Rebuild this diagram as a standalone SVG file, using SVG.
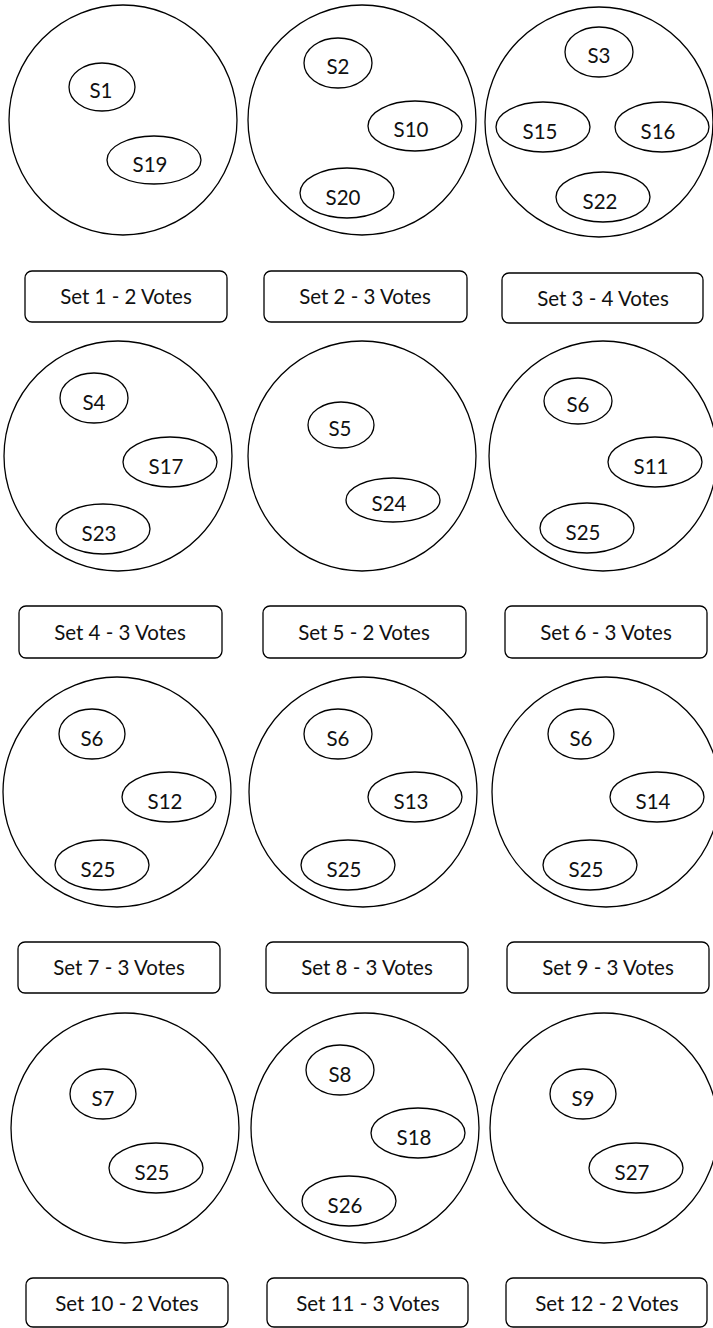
<svg xmlns="http://www.w3.org/2000/svg" width="713" height="1328" viewBox="0 0 713 1328">
<style>
.big{fill:#fff;stroke:#000;stroke-width:1.3}
.s{fill:#fff;stroke:#000;stroke-width:1.3}
.box{fill:#fff;stroke:#000;stroke-width:1.3}
text{font-family:Lato,"Liberation Sans",sans-serif;font-size:20.5px;fill:#111;text-anchor:middle}
</style>
<rect width="713" height="1328" fill="#fff"/>
<g id="connectors"></g>
<g id="set1">
<ellipse class="big" cx="123" cy="120" rx="114" ry="115"/>
<ellipse class="s" cx="102" cy="87" rx="33" ry="24"/><text x="101" y="98">S1</text>
<ellipse class="s" cx="154" cy="160" rx="47" ry="24"/><text x="150" y="172">S19</text>
<rect class="box" x="25" y="271" width="202" height="51" rx="7"/><text x="126" y="304">Set 1 - 2 Votes</text>
</g>
<g id="set2">
<ellipse class="big" cx="362" cy="120" rx="114" ry="115"/>
<ellipse class="s" cx="338" cy="63" rx="34" ry="25"/><text x="338" y="74">S2</text>
<ellipse class="s" cx="415" cy="126" rx="47" ry="25"/><text x="411" y="137">S10</text>
<ellipse class="s" cx="347" cy="193" rx="47" ry="25"/><text x="343" y="205">S20</text>
<rect class="box" x="264" y="271" width="203" height="51" rx="7"/><text x="365" y="304">Set 2 - 3 Votes</text>
</g>
<g id="set3">
<ellipse class="big" cx="599" cy="122" rx="114" ry="115"/>
<ellipse class="s" cx="599" cy="52" rx="34" ry="25"/><text x="599" y="63">S3</text>
<ellipse class="s" cx="543" cy="127" rx="47" ry="25"/><text x="540" y="139">S15</text>
<ellipse class="s" cx="662" cy="127" rx="47" ry="25"/><text x="658" y="139">S16</text>
<ellipse class="s" cx="603" cy="197" rx="47" ry="25"/><text x="600" y="209">S22</text>
<rect class="box" x="502" y="273" width="201" height="50" rx="7"/><text x="603" y="306">Set 3 - 4 Votes</text>
</g>
<g id="set4">
<ellipse class="big" cx="118" cy="456" rx="114" ry="115"/>
<ellipse class="s" cx="94" cy="398" rx="34" ry="25"/><text x="94" y="410">S4</text>
<ellipse class="s" cx="170" cy="462" rx="47" ry="25"/><text x="166" y="474">S17</text>
<ellipse class="s" cx="103" cy="529" rx="47" ry="25"/><text x="99" y="541">S23</text>
<rect class="box" x="19" y="606" width="203" height="52" rx="7"/><text x="120" y="640">Set 4 - 3 Votes</text>
</g>
<g id="set5">
<ellipse class="big" cx="362" cy="456" rx="114" ry="115"/>
<ellipse class="s" cx="341" cy="425" rx="33" ry="23"/><text x="340" y="436">S5</text>
<ellipse class="s" cx="393" cy="500" rx="47" ry="22"/><text x="389" y="511">S24</text>
<rect class="box" x="263" y="606" width="203" height="52" rx="7"/><text x="364" y="640">Set 5 - 2 Votes</text>
</g>
<g id="set6">
<ellipse class="big" cx="603" cy="456" rx="114" ry="115"/>
<ellipse class="s" cx="578" cy="401" rx="34" ry="23"/><text x="578" y="412">S6</text>
<ellipse class="s" cx="655" cy="462" rx="47" ry="25"/><text x="651" y="474">S11</text>
<ellipse class="s" cx="587" cy="528" rx="47" ry="25"/><text x="583" y="540">S25</text>
<rect class="box" x="505" y="606" width="202" height="52" rx="7"/><text x="606" y="640">Set 6 - 3 Votes</text>
</g>
<g id="set7">
<ellipse class="big" cx="117" cy="792" rx="114" ry="115"/>
<ellipse class="s" cx="92" cy="734" rx="33" ry="25"/><text x="92" y="746">S6</text>
<ellipse class="s" cx="169" cy="797" rx="47" ry="25"/><text x="165" y="809">S12</text>
<ellipse class="s" cx="102" cy="865" rx="47" ry="25"/><text x="98" y="877">S25</text>
<rect class="box" x="18" y="942" width="202" height="51" rx="7"/><text x="119" y="975">Set 7 - 3 Votes</text>
</g>
<g id="set8">
<ellipse class="big" cx="363" cy="792" rx="114" ry="115"/>
<ellipse class="s" cx="338" cy="734" rx="34" ry="25"/><text x="338" y="746">S6</text>
<ellipse class="s" cx="415" cy="797" rx="47" ry="25"/><text x="411" y="809">S13</text>
<ellipse class="s" cx="348" cy="865" rx="47" ry="25"/><text x="344" y="877">S25</text>
<rect class="box" x="266" y="942" width="202" height="51" rx="7"/><text x="367" y="975">Set 8 - 3 Votes</text>
</g>
<g id="set9">
<ellipse class="big" cx="606" cy="792" rx="114" ry="115"/>
<ellipse class="s" cx="581" cy="734" rx="33" ry="25"/><text x="581" y="746">S6</text>
<ellipse class="s" cx="657" cy="797" rx="47" ry="25"/><text x="653" y="809">S14</text>
<ellipse class="s" cx="590" cy="865" rx="47" ry="25"/><text x="586" y="877">S25</text>
<rect class="box" x="507" y="942" width="202" height="51" rx="7"/><text x="608" y="975">Set 9 - 3 Votes</text>
</g>
<g id="set10">
<ellipse class="big" cx="125" cy="1128" rx="114" ry="115"/>
<ellipse class="s" cx="103" cy="1094" rx="33" ry="25"/><text x="103" y="1106">S7</text>
<ellipse class="s" cx="156" cy="1168" rx="47" ry="25"/><text x="152" y="1180">S25</text>
<rect class="box" x="26" y="1278" width="202" height="49" rx="7"/><text x="127" y="1311">Set 10 - 2 Votes</text>
</g>
<g id="set11">
<ellipse class="big" cx="365" cy="1128" rx="114" ry="115"/>
<ellipse class="s" cx="340" cy="1070" rx="34" ry="25"/><text x="340" y="1082">S8</text>
<ellipse class="s" cx="418" cy="1133" rx="47" ry="25"/><text x="414" y="1145">S18</text>
<ellipse class="s" cx="349" cy="1201" rx="47" ry="25"/><text x="345" y="1213">S26</text>
<rect class="box" x="267" y="1278" width="201" height="49" rx="7"/><text x="368" y="1311">Set 11 - 3 Votes</text>
</g>
<g id="set12">
<ellipse class="big" cx="604" cy="1128" rx="114" ry="115"/>
<ellipse class="s" cx="583" cy="1094" rx="33" ry="25"/><text x="583" y="1106">S9</text>
<ellipse class="s" cx="636" cy="1168" rx="47" ry="25"/><text x="632" y="1180">S27</text>
<rect class="box" x="506" y="1278" width="201" height="49" rx="7"/><text x="607" y="1311">Set 12 - 2 Votes</text>
</g>
</svg>
